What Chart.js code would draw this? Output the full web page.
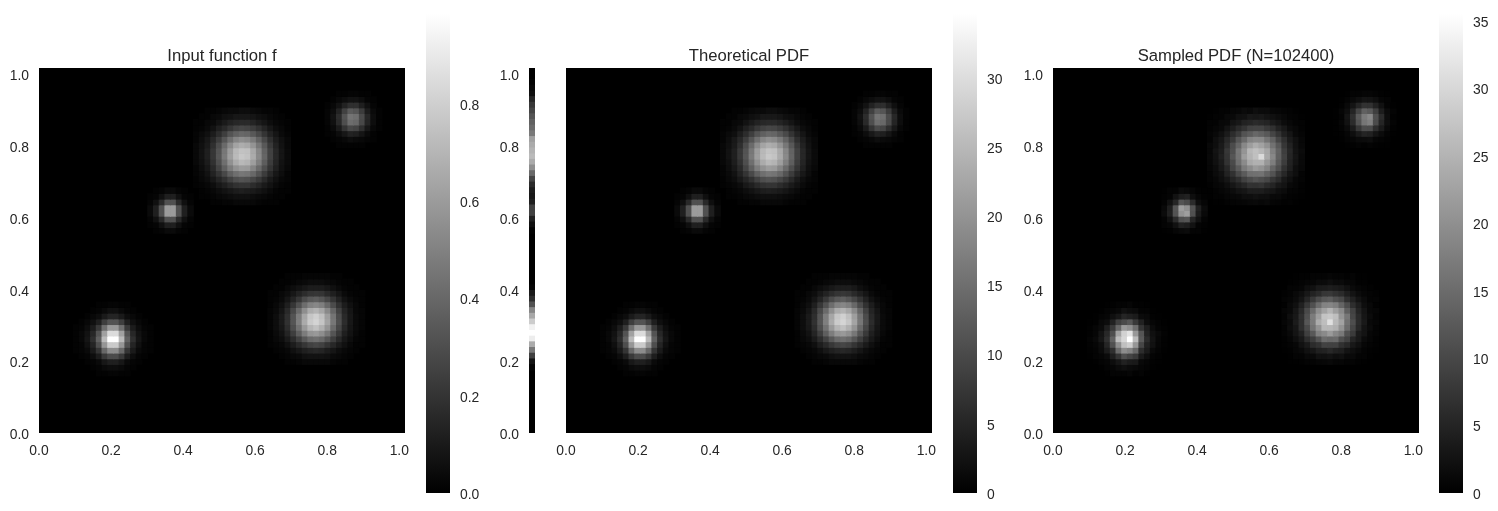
<!DOCTYPE html>
<html><head><meta charset="utf-8">
<style>html,body{margin:0;padding:0;background:#fff;width:1498px;height:511px;overflow:hidden}canvas{position:absolute;display:block}</style>
<script src="https://cdn.jsdelivr.net/npm/chart.js@4"></script>
</head><body>
<script>
const titles=["Input function f","Theoretical PDF","Sampled PDF (N=102400)"];
const tickLabelsMain=[0,0.2,0.4,0.6,0.8,1.0];
const colorbarMax=[0.985,34.6,35.52];
const colorbarStep=[0.2,5,5];
const gridSize=64;
const blobColumnStart=[6,40,27,49,19];
const blobRowStart=[10,12,40,50,35];

// grey column beside the middle image, percent of white, top row first
const stripFromTop=[0,0,1,3,6,15,22,27,33,38,42,48,63,67,70,73,67,56,41,27,17,11,9,12,25,26,13,6,1,0,0,0,0,0,0,0,0,0,2,10,18,32,53,66,80,95,100,93,67,47,25,8,2,0,0,0,0,0,0,0,0,0,0,0];

// f in hundredths, rows listed from low y upward
const inputA=[[0,0,0,0,1,1,2,2,1,1,0,0,0,0],[0,0,0,1,2,4,5,5,4,2,1,0,0,0],[0,0,1,2,4,9,12,12,9,4,2,1,0,0],[0,1,2,5,11,22,29,29,22,11,5,2,1,0],[1,2,4,10,20,40,54,54,40,20,10,4,2,1],[1,2,6,14,30,58,78,78,58,30,14,6,2,1],[1,3,8,18,37,72,98,98,72,37,18,8,3,1],[1,3,7,15,32,62,85,85,62,32,15,7,3,1],[1,2,5,11,22,43,59,59,43,22,11,5,2,1],[0,1,3,6,12,24,32,32,24,12,6,3,1,0],[0,0,1,3,5,10,14,14,10,5,3,1,0,0],[0,0,0,1,2,4,6,6,4,2,1,0,0,0],[0,0,0,0,1,1,2,2,1,1,0,0,0,0]];
const inputB=[[0,0,0,1,1,2,3,3,3,3,3,2,1,1,0,0,0],[0,0,1,2,3,4,6,7,7,7,6,4,3,2,1,0,0],[0,1,2,3,6,9,12,14,15,14,11,8,5,3,2,1,0],[1,2,3,6,11,16,21,25,27,25,20,15,10,6,3,1,1],[1,3,5,10,17,25,34,41,43,40,33,24,16,9,5,2,1],[1,4,7,14,24,36,48,57,59,55,46,33,22,12,7,3,1],[2,5,9,17,30,44,59,70,74,68,57,41,27,15,8,4,2],[2,5,10,19,33,49,66,78,82,76,63,46,30,17,9,4,2],[2,5,10,18,32,48,64,76,80,74,61,45,29,16,9,4,2],[2,4,8,16,28,41,55,66,69,64,53,39,25,14,8,3,2],[1,3,6,12,21,31,42,50,52,49,40,29,19,11,6,3,1],[1,2,4,8,14,21,29,34,36,33,27,20,13,7,4,2,1],[1,1,3,5,9,13,17,20,21,20,16,12,8,4,2,1,1],[0,1,1,3,5,7,9,11,11,11,9,6,4,2,1,1,0],[0,0,1,1,2,3,4,5,5,5,4,3,2,1,1,0,0],[0,0,0,1,1,1,2,2,2,2,2,1,1,0,0,0,0]];
const inputC=[[0,0,0,1,1,2,2,3,3,3,3,2,1,1,1,0,0],[0,1,1,2,3,4,5,6,6,6,5,4,3,2,1,1,0],[0,1,2,3,5,7,9,11,12,11,10,8,6,4,2,1,1],[1,2,3,5,9,12,16,19,20,20,17,14,10,7,4,2,1],[1,3,5,9,14,19,25,30,32,31,27,22,16,10,6,3,2],[2,4,7,13,20,28,37,43,46,45,40,32,23,15,9,5,2],[2,5,9,16,26,37,48,56,60,59,51,41,30,20,12,6,3],[3,6,11,19,30,43,56,66,71,69,61,49,36,23,14,7,4],[3,7,12,21,33,47,61,72,77,75,66,53,39,25,15,8,4],[3,7,12,21,32,46,60,71,75,74,65,52,38,25,15,8,4],[3,6,10,18,29,41,53,63,67,65,57,46,34,22,13,7,3],[2,5,9,15,23,33,43,51,55,53,47,38,28,18,11,6,3],[2,4,6,11,17,24,32,37,40,39,34,28,20,13,8,4,2],[1,2,4,7,12,16,21,25,27,26,23,19,14,9,5,3,1],[1,1,3,4,7,10,13,15,16,16,14,11,8,5,3,2,1],[0,1,1,3,4,6,7,9,9,9,8,6,5,3,2,1,0],[0,0,1,1,2,3,4,4,5,5,4,3,2,2,1,0,0]];
const inputD=[[0,0,0,1,1,1,1,1,0,0,0],[0,0,1,2,3,5,4,3,2,1,0],[0,1,2,5,9,13,12,8,4,1,0],[0,1,4,10,20,28,26,18,9,3,1],[0,2,6,16,30,42,40,28,14,5,1],[0,2,7,17,32,45,43,29,15,5,1],[0,2,5,13,25,35,33,23,11,4,1],[0,1,3,7,13,18,18,12,6,2,0],[0,0,1,3,5,7,7,5,2,1,0],[0,0,0,1,1,2,2,1,1,0,0]];
const inputE=[[0,1,2,4,4,2,1,0],[1,2,6,12,12,6,2,1],[2,6,16,31,31,16,6,2],[4,12,31,60,60,31,12,4],[4,12,31,60,60,31,12,4],[2,6,16,31,31,16,6,2],[1,2,6,12,12,6,2,1],[0,1,2,4,4,2,1,0]];

// theoretical density in tenths
const theoryA=[[0,0,0,0,4,4,7,7,4,4,0,0,0,0],[0,0,0,4,7,14,18,18,14,7,4,0,0,0],[0,0,4,7,14,32,42,42,32,14,7,4,0,0],[0,4,7,18,39,77,102,102,77,39,18,7,4,0],[4,7,14,35,70,141,190,190,141,70,35,14,7,4],[4,7,21,49,106,204,275,275,204,106,49,21,7,4],[4,11,28,63,130,253,345,345,253,130,63,28,11,4],[4,11,25,53,113,218,299,299,218,113,53,25,11,4],[4,7,18,39,77,151,208,208,151,77,39,18,7,4],[0,4,11,21,42,84,113,113,84,42,21,11,4,0],[0,0,4,11,18,35,49,49,35,18,11,4,0,0],[0,0,0,4,7,14,21,21,14,7,4,0,0,0],[0,0,0,0,4,4,7,7,4,4,0,0,0,0]];
const theoryB=[[0,0,0,4,4,7,11,11,11,11,11,7,4,4,0,0,0],[0,0,4,7,11,14,21,25,25,25,21,14,11,7,4,0,0],[0,4,7,11,21,32,42,49,53,49,39,28,18,11,7,4,0],[4,7,11,21,39,56,74,88,95,88,70,53,35,21,11,4,4],[4,11,18,35,60,88,120,144,151,141,116,84,56,32,18,7,4],[4,14,25,49,84,127,169,201,208,194,162,116,77,42,25,11,4],[7,18,32,60,106,155,208,246,260,239,201,144,95,53,28,14,7],[7,18,35,67,116,172,232,275,289,268,222,162,106,60,32,14,7],[7,18,35,63,113,169,225,268,282,260,215,158,102,56,32,14,7],[7,14,28,56,99,144,194,232,243,225,187,137,88,49,28,11,7],[4,11,21,42,74,109,148,176,183,172,141,102,67,39,21,11,4],[4,7,14,28,49,74,102,120,127,116,95,70,46,25,14,7,4],[4,4,11,18,32,46,60,70,74,70,56,42,28,14,7,4,4],[0,4,4,11,18,25,32,39,39,39,32,21,14,7,4,4,0],[0,0,4,4,7,11,14,18,18,18,14,11,7,4,4,0,0],[0,0,0,4,4,4,7,7,7,7,7,4,4,0,0,0,0]];
const theoryC=[[0,0,0,4,4,7,7,11,11,11,11,7,4,4,4,0,0],[0,4,4,7,11,14,18,21,21,21,18,14,11,7,4,4,0],[0,4,7,11,18,25,32,39,42,39,35,28,21,14,7,4,4],[4,7,11,18,32,42,56,67,70,70,60,49,35,25,14,7,4],[4,11,18,32,49,67,88,106,113,109,95,77,56,35,21,11,7],[7,14,25,46,70,99,130,151,162,158,141,113,81,53,32,18,7],[7,18,32,56,92,130,169,197,211,208,180,144,106,70,42,21,11],[11,21,39,67,106,151,197,232,250,243,215,172,127,81,49,25,14],[11,25,42,74,116,165,215,253,271,264,232,187,137,88,53,28,14],[11,25,42,74,113,162,211,250,264,260,229,183,134,88,53,28,14],[11,21,35,63,102,144,187,222,236,229,201,162,120,77,46,25,11],[7,18,32,53,81,116,151,180,194,187,165,134,99,63,39,21,11],[7,14,21,39,60,84,113,130,141,137,120,99,70,46,28,14,7],[4,7,14,25,42,56,74,88,95,92,81,67,49,32,18,11,4],[4,4,11,14,25,35,46,53,56,56,49,39,28,18,11,7,4],[0,4,4,11,14,21,25,32,32,32,28,21,18,11,7,4,0],[0,0,4,4,7,11,14,14,18,18,14,11,7,7,4,0,0]];
const theoryD=[[0,0,0,4,4,4,4,4,0,0,0],[0,0,4,7,11,18,14,11,7,4,0],[0,4,7,18,32,46,42,28,14,4,0],[0,4,14,35,70,99,92,63,32,11,4],[0,7,21,56,106,148,141,99,49,18,4],[0,7,25,60,113,158,151,102,53,18,4],[0,7,18,46,88,123,116,81,39,14,4],[0,4,11,25,46,63,63,42,21,7,0],[0,0,4,11,18,25,25,18,7,4,0],[0,0,0,4,4,7,7,4,4,0,0]];
const theoryE=[[0,4,7,14,14,7,4,0],[4,7,21,42,42,21,7,4],[7,21,56,109,109,56,21,7],[14,42,109,211,211,109,42,14],[14,42,109,211,211,109,42,14],[7,21,56,109,109,56,21,7],[4,7,21,42,42,21,7,4],[0,4,7,14,14,7,4,0]];

// sampled density in tenths
const sampledA=[[0,0,0,2,5,6,5,9,3,5,1,0,0,0],[0,0,2,5,9,16,21,15,12,9,5,2,0,0],[0,2,5,9,18,30,46,38,35,12,9,3,1,0],[1,5,9,16,42,72,110,95,80,36,20,5,3,0],[3,6,16,38,66,148,196,182,146,62,38,12,5,2],[4,9,18,52,112,198,268,285,210,98,46,23,9,3],[5,12,30,66,135,262,300,355,262,125,60,26,10,3],[3,9,26,56,108,226,292,318,212,118,49,22,12,4],[3,8,15,42,81,144,215,200,155,73,42,15,6,3],[1,3,12,18,46,88,105,120,80,46,18,9,4,1],[0,2,5,9,21,32,52,44,38,16,12,3,2,0],[0,0,2,5,9,12,24,18,16,6,5,2,0,0],[0,0,0,2,3,6,5,9,3,3,1,0,0,0]];
const sampledB=[[0,1,1,3,5,5,9,10,13,9,9,6,5,3,1,0,0],[0,1,5,6,12,13,23,22,27,20,22,13,12,5,5,1,0],[1,3,8,12,23,30,44,48,56,46,42,26,20,12,6,3,1],[3,6,10,23,36,60,70,92,90,90,68,56,33,22,10,5,3],[3,9,20,33,62,85,115,150,145,148,110,90,52,35,15,8,3],[5,12,28,46,88,122,178,192,215,188,168,112,82,38,27,10,5],[6,18,30,64,102,160,205,255,255,245,205,148,98,56,28,15,6],[8,16,38,64,120,170,240,265,312,258,226,156,108,60,35,13,8],[6,20,33,65,112,172,220,272,278,265,208,164,98,58,30,16,6],[8,13,30,57,102,148,198,226,250,220,192,132,92,50,28,11,8],[3,13,22,44,76,112,150,182,186,176,140,106,64,42,19,11,3],[5,9,16,28,52,78,105,123,130,112,100,66,46,26,16,6,5],[3,6,12,20,33,48,58,75,78,68,60,42,27,15,8,5,3],[0,5,5,9,20,23,36,38,42,37,34,23,14,9,5,3,0],[0,1,3,5,8,10,15,16,21,16,15,10,8,3,3,0,0],[0,0,1,3,3,5,6,6,9,6,6,3,5,1,1,0,0]];
const sampledC=[[0,1,1,4,5,7,8,11,12,10,12,7,5,3,4,1,0],[1,4,4,8,11,13,19,20,23,20,19,13,12,7,4,3,1],[1,4,8,12,18,26,31,41,41,40,34,29,20,15,7,5,3],[3,8,11,19,31,43,55,69,68,72,58,50,34,26,13,8,3],[5,10,19,31,50,65,90,104,115,107,97,75,58,34,22,10,6],[6,15,24,47,68,101,127,155,158,160,138,115,79,54,30,19,6],[8,17,33,54,95,127,172,194,214,205,183,141,109,68,43,20,11],[10,22,37,69,103,155,193,236,247,247,211,175,124,83,47,26,13],[11,24,44,72,119,161,219,250,268,305,236,190,134,90,51,29,13],[10,26,41,76,110,165,208,255,268,256,233,180,137,86,54,26,15],[11,20,36,62,104,141,190,218,240,226,204,159,123,75,47,24,11],[6,19,30,54,79,119,148,183,191,190,162,137,96,65,37,22,10],[7,13,22,38,61,82,115,128,143,135,122,96,73,44,29,13,7],[4,8,13,26,40,58,72,90,93,94,79,68,47,33,17,11,4],[4,4,11,13,26,33,47,52,58,54,50,37,29,17,11,6,4],[1,4,4,11,13,22,24,33,30,33,26,22,17,11,6,4,1],[0,1,4,4,8,10,15,13,19,16,15,10,8,6,4,1,0]];
const sampledD=[[0,0,1,3,5,3,6,3,1,1,0],[0,1,5,8,14,15,18,9,6,3,0],[1,3,9,20,36,50,46,28,15,6,1],[1,5,16,38,76,106,104,62,36,12,3],[1,9,25,60,115,165,178,105,52,20,5],[1,6,28,66,125,172,190,110,60,18,3],[1,9,20,50,96,135,126,88,40,16,5],[0,3,12,28,50,70,68,46,23,6,1],[0,1,5,12,20,28,26,20,9,5,0],[0,0,1,5,6,9,8,5,3,1,0]];
const sampledE=[[1,3,9,12,16,6,5,1],[5,9,23,46,40,25,6,3],[6,23,60,112,118,52,23,6],[16,45,115,205,222,112,38,12],[12,42,118,218,200,115,45,16],[6,23,52,115,102,60,18,8],[3,6,25,40,46,20,9,3],[1,5,6,16,12,9,3,1]];

const cell=1/(gridSize-1);
const axisMax=gridSize*cell;
const textColor='#262626';
const fontFamily='"Liberation Sans",Arial,sans-serif';
const tickFont={family:fontFamily,size:13.89,lineHeight:1.2};
const yTickFont={family:fontFamily,size:13.89,lineHeight:'5px'};
const barTickFont={family:fontFamily,size:13.89,lineHeight:'4px'};
const plotBackground={id:'plotBackground',beforeDatasetsDraw(c){const a=c.chartArea;c.ctx.save();c.ctx.fillStyle='#000';c.ctx.fillRect(a.left,a.top,a.right-a.left,a.bottom-a.top);c.ctx.restore();}};
function grey(f){const g=Math.round(Math.min(1,Math.max(0,f))*255);return `rgb(${g},${g},${g})`;}
function addCanvas(left,top,width,height){const c=document.createElement('canvas');c.width=width;c.height=height;c.style.left=left+'px';c.style.top=top+'px';c.style.width=width+'px';c.style.height=height+'px';document.body.appendChild(c);return c;}
function cellsFrom(patches,divisor,vmax){
  const out=[];
  patches.forEach((rows,b)=>rows.forEach((row,r)=>row.forEach((n,k)=>{
    if(n<=0)return;
    const i=blobColumnStart[b]+k,j=blobRowStart[b]+r;
    out.push({x:(i+0.5)*cell,y:[j*cell,(j+1)*cell],v:grey(n/divisor/vmax)});
  })));
  return out;
}
function fixWidth(w){return s=>{s.width=w;s.paddingLeft=s.paddingRight=s.paddingTop=s.paddingBottom=0;};}
function fixHeight(h){return s=>{s.height=h;s.paddingLeft=s.paddingRight=s.paddingTop=s.paddingBottom=0;};}
function yAxisMain(showLabels){return {type:'linear',min:0,max:axisMax,grid:{display:false,drawTicks:false},border:{display:false},
  afterBuildTicks:s=>{s.ticks=tickLabelsMain.map(v=>({value:v}));},afterFit:fixWidth(39),
  ticks:{display:showLabels,color:textColor,font:yTickFont,padding:10,autoSkip:false,maxRotation:0,callback:v=>['',Number(v).toFixed(1)]}};}
function heatChart(plotLeft,title,data,showYLabels){
  const canvas=addCanvas(plotLeft-39,45,366+39+14,425);
  new Chart(canvas,{type:'bar',plugins:[plotBackground],
    data:{datasets:[{data,backgroundColor:c=>c.raw?c.raw.v:'#000',borderWidth:0,barThickness:366/gridSize,inflateAmount:0.4,grouped:false}]},
    options:{responsive:false,animation:false,events:[],devicePixelRatio:1,
      layout:{padding:{left:0,right:14,top:0,bottom:0}},
      plugins:{legend:{display:false},tooltip:{enabled:false},
        title:{display:true,fullSize:false,text:title,color:textColor,font:{family:fontFamily,size:16.67,weight:'normal',lineHeight:'20px'},padding:{top:1,bottom:2}}},
      scales:{x:{type:'linear',offset:false,min:0,max:axisMax,grid:{display:false,drawTicks:false},border:{display:false},
        afterBuildTicks:s=>{s.ticks=tickLabelsMain.map(v=>({value:v}));},afterFit:fixHeight(37),
        ticks:{color:textColor,font:tickFont,padding:10,autoSkip:false,maxRotation:0,callback:v=>Number(v).toFixed(1)}},
        y:yAxisMain(showYLabels)}}});
}
function stripChart(){
  const canvas=addCanvas(490,60,50,381);
  const data=stripFromTop.map((n,r)=>{const j=gridSize-1-r;return {x:0.5*cell,y:[j*cell,(j+1)*cell],v:grey(n/100)};}).filter(d=>d.v!=='rgb(0,0,0)');
  new Chart(canvas,{type:'bar',plugins:[plotBackground],
    data:{datasets:[{data,backgroundColor:c=>c.raw?c.raw.v:'#000',borderWidth:0,barThickness:6,inflateAmount:0.4,grouped:false}]},
    options:{responsive:false,animation:false,events:[],devicePixelRatio:1,
      layout:{padding:{left:0,right:5,top:8,bottom:8}},
      plugins:{legend:{display:false},tooltip:{enabled:false}},
      scales:{x:{type:'linear',offset:false,min:0,max:cell,display:false},y:yAxisMain(true)}}});
}
function colorbar(left,vmax,step,decimals){
  const canvas=addCanvas(left,0,24+35,511);
  new Chart(canvas,{type:'bar',
    data:{labels:[''],datasets:[{data:[[0,vmax]],borderWidth:0,barPercentage:1,categoryPercentage:1,inflateAmount:0,
      backgroundColor:c=>{const a=c.chart.chartArea;if(!a)return '#888';const g=c.chart.ctx.createLinearGradient(0,a.bottom,0,a.top);g.addColorStop(0,'#000');g.addColorStop(1,'#fff');return g;}}]},
    options:{responsive:false,animation:false,events:[],devicePixelRatio:1,
      layout:{padding:{left:0,right:0,top:14,bottom:18}},
      plugins:{legend:{display:false},tooltip:{enabled:false}},
      scales:{x:{display:false},y:{type:'linear',position:'right',min:0,max:vmax,grid:{display:false,drawTicks:false},border:{display:false},
        afterFit:fixWidth(35),
        ticks:{color:textColor,font:barTickFont,padding:10,stepSize:step,includeBounds:false,autoSkip:false,callback:v=>['',Number(v).toFixed(decimals)]}}}}});
}
heatChart(39,titles[0],cellsFrom([inputA,inputB,inputC,inputD,inputE],100,colorbarMax[0]),true);
heatChart(566,titles[1],cellsFrom([theoryA,theoryB,theoryC,theoryD,theoryE],10,colorbarMax[1]),false);
heatChart(1053,titles[2],cellsFrom([sampledA,sampledB,sampledC,sampledD,sampledE],10,colorbarMax[2]),true);
stripChart();
colorbar(426,colorbarMax[0],colorbarStep[0],1);
colorbar(953,colorbarMax[1],colorbarStep[1],0);
colorbar(1439,colorbarMax[2],colorbarStep[2],0);
</script>
</body></html>
